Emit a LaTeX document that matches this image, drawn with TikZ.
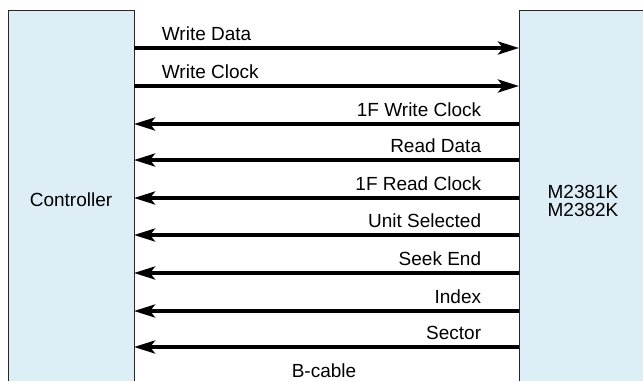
\documentclass[tikz,border=0pt]{standalone}
\usepackage{fontspec}
\setmainfont{Liberation Sans}
\usepackage{tikz}
\usetikzlibrary{arrows.meta,positioning}
\definecolor{panelblue}{RGB}{221,238,246}
\tikzset{
    >={Stealth[length=21pt,width=13pt,inset=5pt]},
    unitbox/.style={
        rectangle,
        fill=panelblue,
        inner sep=0pt, outer sep=0pt,
        minimum height=371pt
    },
    rim/.style={draw=black!85, line width=0.8pt},
    sigline/.style={line width=3.8pt, ->},
    sigtext/.style={inner sep=0pt, font={\fontsize{19pt}{18pt}\selectfont}},
}
\begin{document}
\begin{tikzpicture}[x=1pt,y=-1pt]
\useasboundingbox (0,0) rectangle (643,381);
\fill[white] (0,0) rectangle (643,381);
\node[unitbox, minimum width=126pt] (ctrl) at (71,195.5) {};
\node[unitbox, minimum width=124pt] (drive) at (581,195.5) {};
\draw[rim] (ctrl.south west) -- (ctrl.north west) -- (ctrl.north east) -- (ctrl.south east);
\draw[rim] (drive.south west) -- (drive.north west) -- (drive.north east);
\node[sigtext] (ctrlname) at (71,200) {Controller};
\node[sigtext, align=center] (drivename) at (583,201) {M2381K\\M2382K};
\foreach \y/\txt in {48/Write Data, 86/Write Clock}
    \draw[sigline] (ctrl.east |- 0,\y) -- (drive.west |- 0,\y)
        node[sigtext, anchor=base west] at (160,\y-8) {\txt};
\foreach \y/\txt in {124/1F Write Clock, 160/Read Data, 198/1F Read Clock,
    235/Unit Selected, 273/Seek End, 311/Index, 347/Sector}
    \draw[sigline] (drive.west |- 0,\y) -- (ctrl.east |- 0,\y)
        node[sigtext, anchor=base east] at (483,\y-8) {\txt};
\node[sigtext, anchor=base] (cable) at (324,377) {B-cable};
\end{tikzpicture}
\end{document}
